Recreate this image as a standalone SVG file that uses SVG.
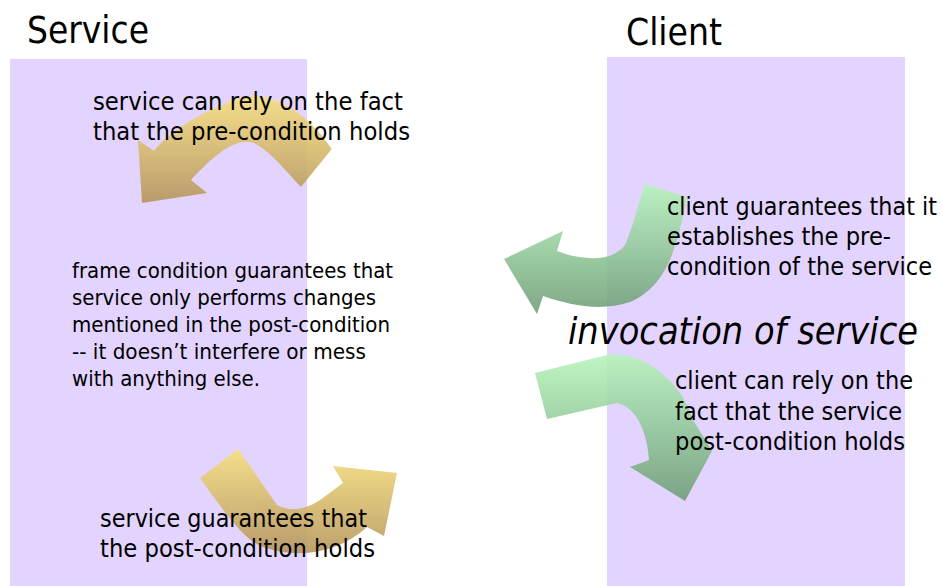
<svg xmlns="http://www.w3.org/2000/svg" width="942" height="586" viewBox="0 0 942 586">
<style>
.t{font-family:"DejaVu Sans","Liberation Sans",sans-serif;fill:#000}
.h{font-size:37px}
.m{font-size:25px}
.s{font-size:21px}
.i{font-size:38px;font-style:italic}
.panel{fill:#e2d4ff}
</style>
<defs>
<linearGradient id="gold" x1="0" y1="0" x2="0" y2="1">
<stop offset="0" stop-color="#f8e07a"/>
<stop offset="1" stop-color="#b39256"/>
</linearGradient>
<linearGradient id="green" x1="0" y1="0" x2="0" y2="1">
<stop offset="0" stop-color="#b6f5ba"/>
<stop offset="1" stop-color="#6c9c74"/>
</linearGradient>
</defs>
<rect width="942" height="586" fill="#fff"/>
<g id="service-panel"><rect class="panel" x="10" y="59" width="297" height="527"/></g>
<g id="client-panel"><rect class="panel" x="607" y="57" width="298" height="529"/></g>
<g id="connectors" opacity="0.87">
<path id="arrow-pre-rely" fill="url(#gold)" d="M331.7 149 C310 115,270 88,240 98 C205 110,170 130,154 151 L138 140 L142 203 L207 193 L191 180 C210 160,230 140,250 142 C265 145,285 170,301 187 Z"/>
<path id="arrow-pre-establish" fill="url(#green)" d="M645 184 L687 197 C678 240,670 285,630 302 C600 312,570 305,543 296 L537 314 L504 259 L563 231 L557 251 C575 258,610 265,625 245 C632 230,638 205,645 184 Z"/>
<path id="arrow-post-rely" fill="url(#green)" d="M535 373 L607 355 C650 350,685 390,693 420 L712 451 L685 501 L630 467 L649 460 C648 440,640 408,617 403 L547 419 Z"/>
<path id="arrow-post-guarantee" fill="url(#gold)" d="M200 478 L238 449 L277 505 C290 512,305 510,320 500 L343 483 L333 466 L397 473 L384 536 L367 527 C340 552,300 560,263 547 C245 540,230 520,200 478 Z"/>
</g>
<g id="titles">
<text class="t h" x="27" y="43" textLength="122" lengthAdjust="spacingAndGlyphs">Service</text>
<text class="t h" x="626" y="45" textLength="96" lengthAdjust="spacingAndGlyphs">Client</text>
</g>
<g id="service-pre">
<text class="t m" x="93" y="110" textLength="310" lengthAdjust="spacingAndGlyphs">service can rely on the fact</text>
<text class="t m" x="93" y="140" textLength="317" lengthAdjust="spacingAndGlyphs">that the pre-condition holds</text>
</g>
<g id="frame-condition">
<text class="t s" x="72" y="278" textLength="321" lengthAdjust="spacingAndGlyphs">frame condition guarantees that</text>
<text class="t s" x="72" y="305" textLength="304" lengthAdjust="spacingAndGlyphs">service only performs changes</text>
<text class="t s" x="72" y="332" textLength="318" lengthAdjust="spacingAndGlyphs">mentioned in the post-condition</text>
<text class="t s" x="72" y="359" textLength="294" lengthAdjust="spacingAndGlyphs">-- it doesn’t interfere or mess</text>
<text class="t s" x="72" y="386" textLength="188" lengthAdjust="spacingAndGlyphs">with anything else.</text>
</g>
<g id="client-pre">
<text class="t m" x="667" y="215" textLength="270" lengthAdjust="spacingAndGlyphs">client guarantees that it</text>
<text class="t m" x="667" y="245" textLength="224" lengthAdjust="spacingAndGlyphs">establishes the pre-</text>
<text class="t m" x="667" y="275" textLength="265" lengthAdjust="spacingAndGlyphs">condition of the service</text>
</g>
<g id="invocation">
<text class="t i" x="568" y="344" textLength="350" lengthAdjust="spacingAndGlyphs">invocation of service</text>
</g>
<g id="client-post">
<text class="t m" x="675" y="389" textLength="238" lengthAdjust="spacingAndGlyphs">client can rely on the</text>
<text class="t m" x="675" y="420" textLength="227" lengthAdjust="spacingAndGlyphs">fact that the service</text>
<text class="t m" x="675" y="450" textLength="230" lengthAdjust="spacingAndGlyphs">post-condition holds</text>
</g>
<g id="service-post">
<text class="t m" x="100" y="527" textLength="267" lengthAdjust="spacingAndGlyphs">service guarantees that</text>
<text class="t m" x="100" y="557" textLength="275" lengthAdjust="spacingAndGlyphs">the post-condition holds</text>
</g>
</svg>
